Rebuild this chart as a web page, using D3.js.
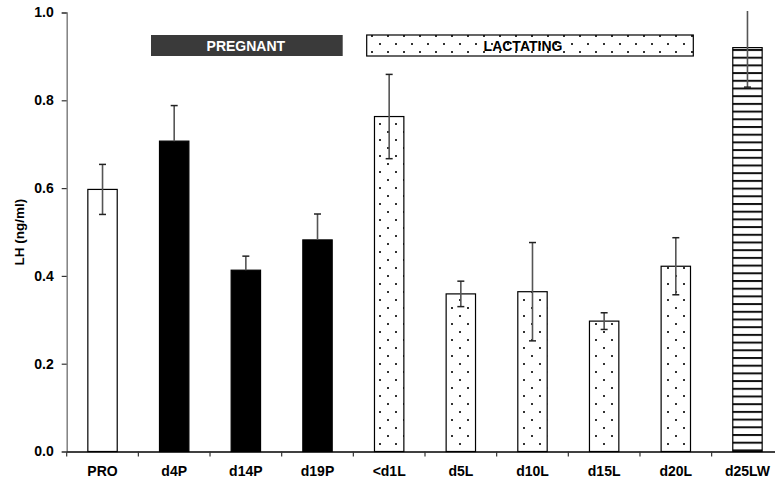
<!DOCTYPE html>
<html>
<head>
<meta charset="utf-8">
<script src="https://cdn.jsdelivr.net/npm/d3@7"></script>
<style>
  html, body { margin: 0; padding: 0; background: #fff; }
  svg { display: block; font-family: "Liberation Sans", Arial, sans-serif; }
</style>
</head>
<body>
<svg id="chart" width="775" height="482"></svg>
<script>
// ---- data ----
const categories = ["PRO", "d4P", "d14P", "d19P", "<d1L", "d5L", "d10L", "d15L", "d20L", "d25LW"];
const means      = [0.597, 0.707, 0.413, 0.482, 0.763, 0.359, 0.364, 0.297, 0.422, 0.920];
const errors     = [0.057, 0.081, 0.032, 0.059, 0.096, 0.029, 0.112, 0.019, 0.065, 0.090];
const groups     = ["control", "pregnant", "pregnant", "pregnant", "lactating", "lactating", "lactating", "lactating", "lactating", "weaned"];
const yTicks     = [0, 0.2, 0.4, 0.6, 0.8, 1.0];
const yLabel     = "LH (ng/ml)";
const legendItems = [
  { label: "PREGNANT", group: "pregnant" },
  { label: "LACTATING", group: "lactating" }
];

const svg = d3.select("#chart");
const W = 775, H = 482;
const plot = { left: 66.7, right: 783.3, top: 12.5, bottom: 451.5 };
const FS = 14;

// patterns
const defs = svg.append("defs");
const dots = defs.append("pattern").attr("id", "dots").attr("patternUnits", "userSpaceOnUse")
  .attr("width", 16).attr("height", 16);
dots.append("rect").attr("width", 16).attr("height", 16).attr("fill", "#fff");
dots.append("rect").attr("x", 3).attr("y", 3).attr("width", 2).attr("height", 2).attr("fill", "#333");
dots.append("rect").attr("x", 11).attr("y", 11).attr("width", 2).attr("height", 2).attr("fill", "#333");

const stripes = defs.append("pattern").attr("id", "stripes").attr("patternUnits", "userSpaceOnUse")
  .attr("width", 8).attr("height", 7.7).attr("y", 49);
stripes.append("rect").attr("width", 8).attr("height", 7.7).attr("fill", "#fff");
stripes.append("rect").attr("y", 0).attr("width", 8).attr("height", 2).attr("fill", "#111");

defs.append("clipPath").attr("id", "plotclip").append("rect")
  .attr("x", 0).attr("y", 11).attr("width", W).attr("height", H);

const fills = { control: "#fff", pregnant: "#000", lactating: "url(#dots)", weaned: "url(#stripes)" };

// scales
const x = d3.scaleBand().domain(categories).range([plot.left, plot.right])
  .paddingInner(0.59).paddingOuter(0.295);
const y = d3.scaleLinear().domain([0, 1]).range([plot.bottom, plot.top]);

const data = categories.map((c, i) => ({ c, m: means[i], e: errors[i], g: groups[i] }));

// bars
svg.append("g").selectAll("rect").data(data).join("rect")
  .attr("x", d => x(d.c))
  .attr("y", d => y(d.m))
  .attr("width", x.bandwidth())
  .attr("height", d => y(0) - y(d.m))
  .attr("fill", d => fills[d.g])
  .attr("stroke", "#000")
  .attr("stroke-width", 1.2);

// error bars
const eg = svg.append("g").attr("clip-path", "url(#plotclip)");
const cx = d => x(d.c) + x.bandwidth() / 2;
eg.selectAll("line.ev").data(data).join("line").attr("class", "ev")
  .attr("x1", cx).attr("x2", cx)
  .attr("y1", d => y(d.m + d.e))
  .attr("y2", d => d.g === "pregnant" ? y(d.m) : y(d.m - d.e))
  .attr("stroke", "#555").attr("stroke-width", 1.6);
eg.selectAll("line.ct").data(data).join("line").attr("class", "ct")
  .attr("x1", d => cx(d) - 3.5).attr("x2", d => cx(d) + 3.5)
  .attr("y1", d => y(d.m + d.e)).attr("y2", d => y(d.m + d.e))
  .attr("stroke", "#222").attr("stroke-width", 1.5);
eg.selectAll("line.cb").data(data.filter(d => d.g !== "pregnant")).join("line").attr("class", "cb")
  .attr("x1", d => cx(d) - 3.5).attr("x2", d => cx(d) + 3.5)
  .attr("y1", d => y(d.m - d.e)).attr("y2", d => y(d.m - d.e))
  .attr("stroke", "#222").attr("stroke-width", 1.5);

// y axis
const yAxis = svg.append("g").attr("transform", `translate(${plot.left},0)`)
  .call(d3.axisLeft(y).tickValues(yTicks).tickFormat(d3.format(".1f")).tickSize(5).tickPadding(8));
yAxis.select(".domain").attr("stroke", "#808080").attr("stroke-width", 1.5);
yAxis.selectAll(".tick line").attr("stroke", "#333").attr("stroke-width", 1.2);
yAxis.selectAll(".tick text").attr("font-size", FS).attr("font-weight", "bold").attr("fill", "#000")
  .attr("font-family", "Liberation Sans, Arial, sans-serif");

// x axis
const xAxis = svg.append("g").attr("transform", `translate(0,${plot.bottom})`)
  .call(d3.axisBottom(x).tickSize(0).tickPadding(15));
xAxis.select(".domain").attr("stroke", "#000").attr("stroke-width", 1.5);
xAxis.selectAll(".tick text").attr("font-size", FS).attr("font-weight", "bold").attr("fill", "#000")
  .attr("font-family", "Liberation Sans, Arial, sans-serif");
// boundary ticks between categories
const boundaries = d3.range(categories.length + 1).map(i => plot.left + i * x.step());
xAxis.selectAll("line.bt").data(boundaries).join("line").attr("class", "bt")
  .attr("x1", d => d).attr("x2", d => d).attr("y1", 0).attr("y2", 5)
  .attr("stroke", "#333").attr("stroke-width", 1.2);

// y label
svg.append("text")
  .attr("transform", `translate(23.5,${(plot.top + plot.bottom) / 2}) rotate(-90)`)
  .attr("text-anchor", "middle").attr("font-size", 13.5).attr("font-weight", "bold")
  .text(yLabel);

// legend boxes
const legendBoxes = [
  { item: legendItems[0], x0: 151, x1: 342.7 },
  { item: legendItems[1], x0: 366.7, x1: 693.3 }
];
const lg = svg.append("g");
legendBoxes.forEach(b => {
  const isP = b.item.group === "pregnant";
  lg.append("rect").attr("x", b.x0).attr("y", 35).attr("width", b.x1 - b.x0).attr("height", 21)
    .attr("fill", isP ? "#3a3a3a" : "url(#dots)")
    .attr("stroke", isP ? "none" : "#000").attr("stroke-width", 1.2);
  lg.append("text").attr("x", isP ? (b.x0 + b.x1) / 2 - 1 : 523).attr("y", 50.5)
    .attr("text-anchor", "middle").attr("font-size", FS).attr("font-weight", "bold")
    .attr("fill", isP ? "#fff" : "#000").text(b.item.label);
});
</script>
</body>
</html>
